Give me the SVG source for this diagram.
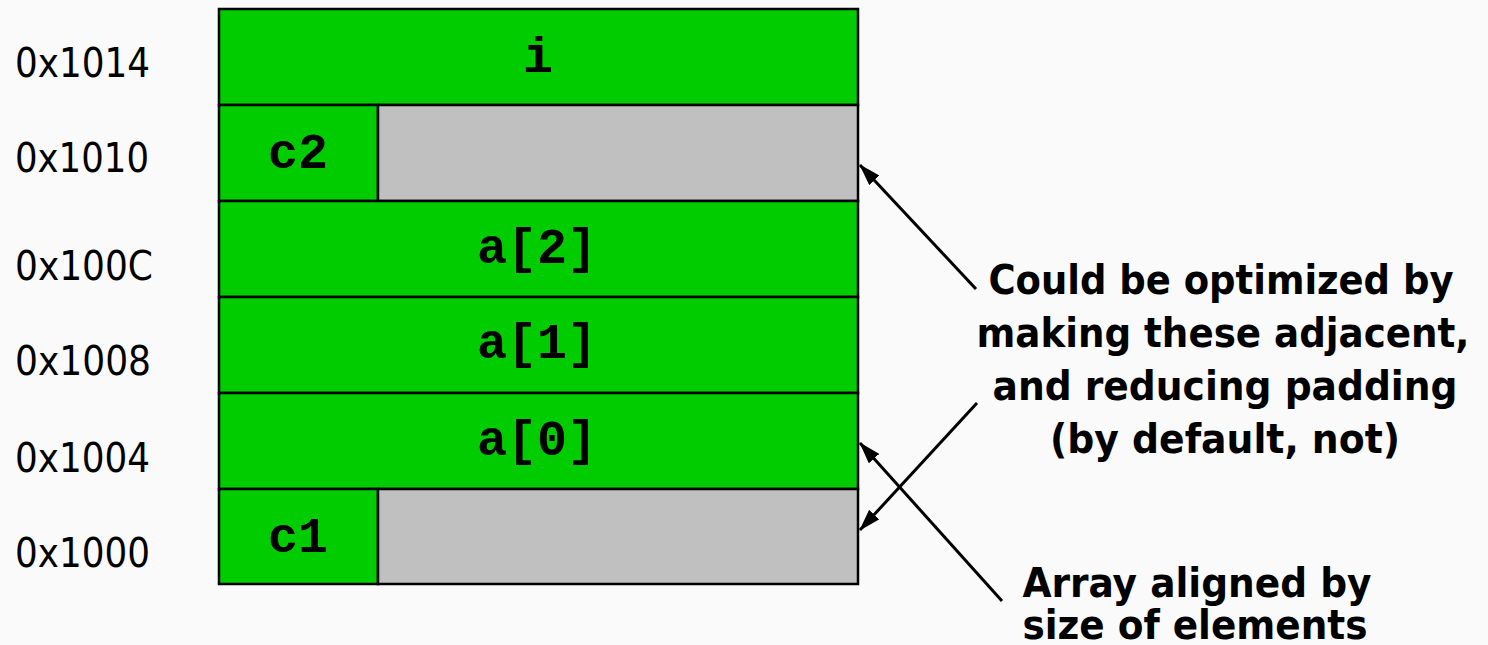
<svg xmlns="http://www.w3.org/2000/svg" width="1488" height="645" viewBox="0 0 1488 645">
  <style>
    .addr { font-family: "DejaVu Sans", "Liberation Sans", sans-serif; font-size: 40px; fill: #000; }
    .cell { stroke: #000; stroke-width: 2.5; }
    .full { fill: #00CC00; }
    .pad { fill: #C0C0C0; }
    .code { font-family: "Liberation Mono", "Courier New", monospace; font-weight: bold; font-size: 50px; fill: #000; text-anchor: middle; }
    .note { font-family: "DejaVu Sans Condensed", "DejaVu Sans", "Liberation Sans", sans-serif; font-weight: bold; font-size: 40px; fill: #000; text-anchor: middle; }
    .conn { stroke: #000; stroke-width: 3; fill: none; marker-end: url(#head); }
  </style>
  <defs>
    <marker id="head" viewBox="0 0 22 14" refX="21" refY="7" markerWidth="22" markerHeight="14" markerUnits="userSpaceOnUse" orient="auto">
      <path d="M0,0 L22,7 L0,14 Z" fill="#000"/>
    </marker>
  </defs>

  <rect x="0" y="0" width="1488" height="645" fill="#FAFAFA"/>

  <!-- address column -->
  <g id="addresses">
    <text class="addr" x="15" y="77" textLength="135" lengthAdjust="spacingAndGlyphs">0x1014</text>
    <text class="addr" x="15" y="172" textLength="134" lengthAdjust="spacingAndGlyphs">0x1010</text>
    <text class="addr" x="15" y="280" textLength="138" lengthAdjust="spacingAndGlyphs">0x100C</text>
    <text class="addr" x="15" y="375" textLength="136" lengthAdjust="spacingAndGlyphs">0x1008</text>
    <text class="addr" x="15" y="472" textLength="135" lengthAdjust="spacingAndGlyphs">0x1004</text>
    <text class="addr" x="15" y="567" textLength="135" lengthAdjust="spacingAndGlyphs">0x1000</text>
  </g>

  <!-- struct layout, one row per 4-byte word -->
  <g id="row-i">
    <rect class="cell full" x="219" y="9" width="639" height="96"/>
    <text class="code" x="538" y="72">i</text>
  </g>
  <g id="row-c2">
    <rect class="cell full" x="219" y="105" width="159" height="96"/>
    <rect class="cell pad" x="378" y="105" width="480" height="96"/>
    <text class="code" x="298" y="168">c2</text>
  </g>
  <g id="row-a2">
    <rect class="cell full" x="219" y="201" width="639" height="96"/>
    <text class="code" x="537" y="263">a[2]</text>
  </g>
  <g id="row-a1">
    <rect class="cell full" x="219" y="297" width="639" height="96"/>
    <text class="code" x="537" y="358">a[1]</text>
  </g>
  <g id="row-a0">
    <rect class="cell full" x="219" y="393" width="639" height="96"/>
    <text class="code" x="537" y="455">a[0]</text>
  </g>
  <g id="row-c1">
    <rect class="cell full" x="219" y="489" width="159" height="95"/>
    <rect class="cell pad" x="378" y="489" width="480" height="95"/>
    <text class="code" x="298" y="552">c1</text>
  </g>

  <!-- connectors -->
  <g id="connectors">
    <line class="conn" x1="976" y1="289" x2="860" y2="165"/>
    <line class="conn" x1="977" y1="403" x2="860" y2="530"/>
    <line class="conn" x1="1002" y1="601" x2="860" y2="443"/>
  </g>

  <!-- annotations -->
  <g id="note-optimize">
    <text class="note" x="1221" y="294" textLength="465" lengthAdjust="spacingAndGlyphs">Could be optimized by</text>
    <text class="note" x="1223" y="347" textLength="493" lengthAdjust="spacingAndGlyphs">making these adjacent,</text>
    <text class="note" x="1225" y="400" textLength="465" lengthAdjust="spacingAndGlyphs">and reducing padding</text>
    <text class="note" x="1225" y="453" textLength="350" lengthAdjust="spacingAndGlyphs">(by default, not)</text>
  </g>
  <g id="note-array">
    <text class="note" x="1197" y="597" textLength="349" lengthAdjust="spacingAndGlyphs">Array aligned by</text>
    <text class="note" x="1195" y="639" textLength="345" lengthAdjust="spacingAndGlyphs">size of elements</text>
  </g>
</svg>
